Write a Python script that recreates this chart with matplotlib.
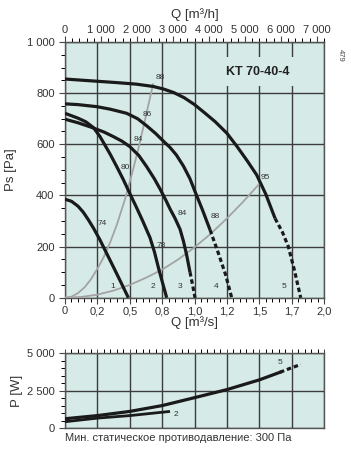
"""Fan curve chart KT 70-40-4: static pressure and power vs airflow."""

import matplotlib

matplotlib.use("Agg")
import matplotlib.pyplot as plt  # noqa: E402
from matplotlib.ticker import FixedLocator, MultipleLocator  # noqa: E402

plt.rcParams["font.family"] = ["Liberation Sans", "DejaVu Sans"]

BG = "#d6ebe8"
GRID = "#3c3c3c"
CURVE = "#1a1a1a"
GREY = "#a3a3a3"
FS = 8
LABEL_FS = 9.5

# pressure curves, Q [m3/s] -> Ps [Pa]; solid part then dashed tail
c1_q = [0, 0.05, 0.1, 0.14, 0.18, 0.22, 0.27, 0.32, 0.373, 0.43, 0.489]
c1_p = [385, 377, 358, 335, 305, 272, 226, 175, 121, 62, 0]
c2_q = [0, 0.1, 0.16, 0.22, 0.27, 0.3, 0.35, 0.4, 0.45, 0.5, 0.55, 0.6,
        0.656, 0.69, 0.725, 0.755, 0.785]
c2_p = [721, 702, 688, 665, 630, 604, 560, 512, 462, 408, 355, 300,
        235, 180, 110, 55, 0]
c3_q = [0, 0.1, 0.2, 0.3, 0.373, 0.44, 0.5, 0.57, 0.631, 0.69, 0.734, 0.78,
        0.81, 0.85, 0.888, 0.915, 0.94, 0.965]
c3_p = [698, 684, 667, 648, 630, 612, 591, 556, 512, 465, 425, 380,
        348, 310, 268, 220, 165, 100]
c3_dash_q = [0.965, 0.985, 1.004]
c3_dash_p = [100, 50, 0]
c4_q = [0, 0.1, 0.245, 0.35, 0.476, 0.56, 0.631, 0.7, 0.76, 0.81, 0.86,
        0.914, 0.965, 1.0, 1.06, 1.12]
c4_p = [758, 755, 747, 737, 721, 700, 672, 642, 612, 588, 558,
        515, 465, 420, 345, 265]
c4_dash_q = [1.12, 1.18, 1.24, 1.287]
c4_dash_p = [265, 180, 90, 0]
c5_q = [0, 0.2, 0.4, 0.55, 0.68, 0.76, 0.84, 0.92, 1.0, 1.08, 1.16, 1.25,
        1.33, 1.41, 1.48, 1.55, 1.622]
c5_p = [855, 848, 841, 835, 826, 816, 802, 782, 755, 722, 688, 643,
        590, 533, 480, 405, 310]
c5_dash_q = [1.622, 1.68, 1.724, 1.77, 1.82]
c5_dash_p = [310, 255, 200, 110, 0]

# grey system lines
sysA_q = [0, 0.05, 0.1, 0.15, 0.2, 0.25, 0.3, 0.35, 0.4, 0.46, 0.52, 0.57,
          0.62, 0.68]
sysA_p = [0, 4, 18, 40, 72, 113, 160, 218, 285, 380, 490, 590, 700, 835]
sysB_q = [0, 0.125, 0.25, 0.375, 0.5, 0.625, 0.75, 0.875, 1.0, 1.125, 1.25,
          1.375, 1.5]
sysB_p = [0, 3, 12, 28, 50, 78, 110, 150, 197, 250, 310, 375, 445]

curve_labels = ["1", "2", "3", "4", "5"]
curve_label_q = [0.368, 0.675, 0.888, 1.166, 1.688]
curve_label_p = [43, 43, 43, 43, 43]

eff_labels = ["74", "80", "84", "86", "88", "78", "84", "88", "95"]
eff_q = [0.288, 0.463, 0.566, 0.638, 0.733, 0.746, 0.908, 1.158, 1.549]
eff_p = [291, 510, 620, 715, 862, 206, 330, 317, 471]

# power curves, Q [m3/s] -> P [W]
pw5_q = [0, 0.25, 0.5, 0.75, 1.0, 1.25, 1.5, 1.66]
pw5_p = [620, 830, 1110, 1500, 2030, 2570, 3220, 3730]
pw5_dash_q = [1.66, 1.74, 1.82]
pw5_dash_p = [3730, 4000, 4250]
pw2_q = [0, 0.25, 0.5, 0.8]
pw2_p = [420, 660, 830, 1100]

q_ticks = [0, 0.25, 0.5, 0.75, 1.0, 1.25, 1.5, 1.75, 2.0]
q_tick_labels = ["0", "0,2", "0,5", "0,8", "1,0", "1,2", "1,5", "1,7", "2,0"]
qh_ticks = [0, 1000, 2000, 3000, 4000, 5000, 6000, 7000]
qh_tick_labels = ["0", "1 000", "2 000", "3 000", "4 000", "5 000", "6 000", "7 000"]
ps_ticks = [0, 200, 400, 600, 800, 1000]
ps_tick_labels = ["0", "200", "400", "600", "800", "1 000"]
pw_ticks = [0, 2500, 5000]
pw_tick_labels = ["0", "2 500", "5 000"]


def style_axes(ax):
    ax.set_facecolor(BG)
    for spine in ax.spines.values():
        spine.set_color("#555555")
        spine.set_linewidth(1.0)
    ax.tick_params(colors="#444444", labelcolor="#333333", labelsize=FS,
                   width=0.8)
    ax.tick_params(which="major", length=4)
    ax.tick_params(which="minor", length=3, width=0.7)
    ax.grid(True, which="major", color=GRID, linewidth=1.0)
    ax.set_axisbelow(True)


fig = plt.figure(figsize=(3.51, 4.5), dpi=100)
ax = fig.add_axes([0.1852, 0.3384, 0.738, 0.5684])
style_axes(ax)
ax.set_xlim(0, 2.0)
ax.set_ylim(0, 1000)
ax.set_xticks(q_ticks)
ax.set_xticklabels(q_tick_labels)
ax.xaxis.set_minor_locator(MultipleLocator(0.05))
ax.set_yticks(ps_ticks)
ax.set_yticklabels(ps_tick_labels)
ax.yaxis.set_minor_locator(MultipleLocator(50))
ax.tick_params(axis="x", pad=2)
ax.set_xlabel("Q [m³/s]", fontsize=LABEL_FS, color="#333333", labelpad=0)
ax.set_ylabel("Ps [Pa]", fontsize=LABEL_FS, color="#333333", labelpad=7)

ax.plot(sysA_q, sysA_p, color=GREY, lw=1.3, zorder=3)
ax.plot(sysB_q, sysB_p, color=GREY, lw=1.3, zorder=3)

for q, p in [(c1_q, c1_p), (c2_q, c2_p), (c3_q, c3_p), (c4_q, c4_p),
             (c5_q, c5_p)]:
    ax.plot(q, p, color=CURVE, lw=2.3, solid_capstyle="butt",
            solid_joinstyle="round", zorder=4)
for q, p in [(c3_dash_q, c3_dash_p), (c4_dash_q, c4_dash_p),
             (c5_dash_q, c5_dash_p)]:
    ax.plot(q, p, color=CURVE, lw=2.3, ls=(0, (1.4, 0.9)), zorder=4)

for text, q, p in zip(curve_labels, curve_label_q, curve_label_p):
    ax.text(q, p, text, fontsize=6, color="#333333", ha="center",
            va="center", zorder=5)
for text, q, p in zip(eff_labels, eff_q, eff_p):
    ax.text(q, p, text, fontsize=6, color="#333333", ha="center",
            va="center", zorder=5)

ax.text(1.487, 884, "KT 70-40-4", fontsize=9, fontweight="bold",
        color="#222222", ha="center", va="center", zorder=5,
        bbox=dict(facecolor=BG, edgecolor="none", pad=6))

top = ax.secondary_xaxis("top", functions=(lambda q: q * 3600,
                                           lambda v: v / 3600))
top.set_xticks(qh_ticks)
top.set_xticklabels(qh_tick_labels)
top.xaxis.set_minor_locator(FixedLocator(list(range(0, 7201, 200))))
top.tick_params(colors="#444444", labelcolor="#333333", labelsize=FS,
                width=0.8, pad=1)
top.tick_params(which="major", length=4)
top.tick_params(which="minor", length=3, width=0.7)
top.spines["top"].set_color("#555555")
top.set_xlabel("Q [m³/h]", fontsize=LABEL_FS, color="#333333", labelpad=5)

fig.text(340 / 351, 1 - 55 / 450, "479", fontsize=5.5, color="#444444",
         rotation=-90, ha="center", va="center")

bx = fig.add_axes([0.1852, 0.0489, 0.738, 0.166])
style_axes(bx)
bx.set_xlim(0, 2.0)
bx.set_ylim(0, 5000)
bx.set_xticks(q_ticks)
bx.xaxis.set_minor_locator(MultipleLocator(0.05))
bx.xaxis.set_ticks_position("top")
bx.tick_params(axis="x", which="both", labeltop=False, labelbottom=False)
bx.tick_params(axis="x", which="major", length=3, width=0.7)
bx.set_yticks(pw_ticks)
bx.set_yticklabels(pw_tick_labels)
bx.yaxis.set_minor_locator(MultipleLocator(500))
bx.set_ylabel("P [W]", fontsize=LABEL_FS, color="#333333", labelpad=3)

bx.plot(pw5_q, pw5_p, color=CURVE, lw=2.3, solid_joinstyle="round",
        zorder=4)
bx.plot(pw5_dash_q, pw5_dash_p, color=CURVE, lw=2.3, ls=(0, (1.4, 0.9)),
        zorder=4)
bx.plot(pw2_q, pw2_p, color=CURVE, lw=2.0, solid_joinstyle="round",
        zorder=4)
bx.text(0.86, 880, "2", fontsize=6, color="#333333", ha="center",
        va="center")
bx.text(1.66, 4360, "5", fontsize=6, color="#333333", ha="center",
        va="center")

fig.text(65 / 351, 1 - 438 / 450, "Мин. статическое противодавление: 300 Па",
         fontsize=8, color="#333333", ha="left", va="center")

fig.savefig("out.png", dpi=100)
